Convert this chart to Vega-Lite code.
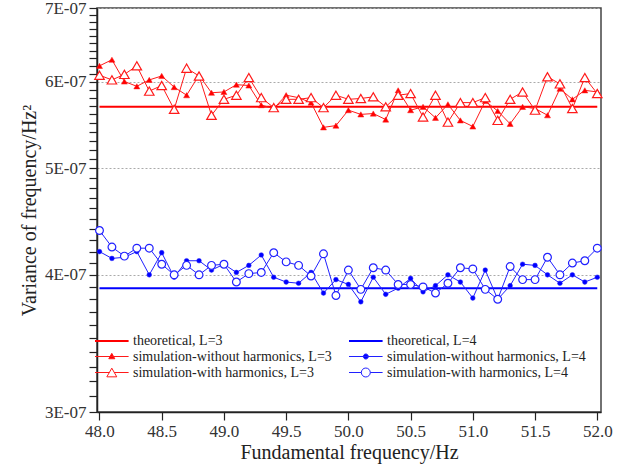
{
  "$schema": "https://vega.github.io/schema/vega-lite/v6.json",
  "width": 504,
  "height": 404,
  "autosize": {"type": "none"},
  "padding": {"left": 97, "top": 8, "right": 29, "bottom": 58},
  "background": "#ffffff",
  "config": {
    "font": "Liberation Serif",
    "view": {"stroke": "#444444", "strokeWidth": 1.5},
    "axis": {
      "labelFont": "Liberation Serif",
      "titleFont": "Liberation Serif",
      "titleFontWeight": "normal",
      "labelColor": "#333333",
      "titleColor": "#222222",
      "domainColor": "#222222",
      "domainWidth": 1.5,
      "tickColor": "#222222",
      "tickWidth": 1.2
    }
  },
  "datasets": {
    "legend": [
      {"s": "theoretical, L=3"}, {"s": "simulation-without harmonics, L=3"}, {"s": "simulation-with harmonics, L=3"},
      {"s": "theoretical, L=4"}, {"s": "simulation-without harmonics, L=4"}, {"s": "simulation-with harmonics, L=4"}
    ],
    "t3": [{"f": 48, "v": 5.69e-7}, {"f": 52, "v": 5.69e-7}],
    "t4": [{"f": 48, "v": 3.89e-7}, {"f": 52, "v": 3.89e-7}],
    "w3": [
      {"f": 48.0, "v": 6.20e-7}, {"f": 48.1, "v": 6.28e-7}, {"f": 48.2, "v": 6.00e-7}, {"f": 48.3, "v": 5.94e-7}, {"f": 48.4, "v": 6.02e-7},
      {"f": 48.5, "v": 6.07e-7}, {"f": 48.6, "v": 5.93e-7}, {"f": 48.7, "v": 5.83e-7}, {"f": 48.8, "v": 6.08e-7}, {"f": 48.9, "v": 5.86e-7},
      {"f": 49.0, "v": 5.87e-7}, {"f": 49.1, "v": 5.96e-7}, {"f": 49.2, "v": 5.95e-7}, {"f": 49.3, "v": 5.71e-7}, {"f": 49.4, "v": 5.67e-7},
      {"f": 49.5, "v": 5.83e-7}, {"f": 49.6, "v": 5.80e-7}, {"f": 49.7, "v": 5.74e-7}, {"f": 49.8, "v": 5.45e-7}, {"f": 49.9, "v": 5.47e-7},
      {"f": 50.0, "v": 5.65e-7}, {"f": 50.1, "v": 5.60e-7}, {"f": 50.2, "v": 5.61e-7}, {"f": 50.3, "v": 5.54e-7}, {"f": 50.4, "v": 5.89e-7},
      {"f": 50.5, "v": 5.65e-7}, {"f": 50.6, "v": 5.69e-7}, {"f": 50.7, "v": 5.56e-7}, {"f": 50.8, "v": 5.72e-7}, {"f": 50.9, "v": 5.53e-7},
      {"f": 51.0, "v": 5.46e-7}, {"f": 51.1, "v": 5.76e-7}, {"f": 51.2, "v": 5.64e-7}, {"f": 51.3, "v": 5.49e-7}, {"f": 51.4, "v": 5.69e-7},
      {"f": 51.5, "v": 5.67e-7}, {"f": 51.6, "v": 5.59e-7}, {"f": 51.7, "v": 5.91e-7}, {"f": 51.8, "v": 5.78e-7}, {"f": 51.9, "v": 5.89e-7},
      {"f": 52.0, "v": 5.87e-7}
    ],
    "h3": [
      {"f": 48.0, "v": 6.08e-7}, {"f": 48.1, "v": 6.02e-7}, {"f": 48.2, "v": 6.09e-7}, {"f": 48.3, "v": 6.20e-7}, {"f": 48.4, "v": 5.88e-7},
      {"f": 48.5, "v": 5.95e-7}, {"f": 48.6, "v": 5.66e-7}, {"f": 48.7, "v": 6.17e-7}, {"f": 48.8, "v": 6.07e-7}, {"f": 48.9, "v": 5.59e-7},
      {"f": 49.0, "v": 5.78e-7}, {"f": 49.1, "v": 5.83e-7}, {"f": 49.2, "v": 6.05e-7}, {"f": 49.3, "v": 5.80e-7}, {"f": 49.4, "v": 5.68e-7},
      {"f": 49.5, "v": 5.78e-7}, {"f": 49.6, "v": 5.78e-7}, {"f": 49.7, "v": 5.80e-7}, {"f": 49.8, "v": 5.68e-7}, {"f": 49.9, "v": 5.83e-7},
      {"f": 50.0, "v": 5.78e-7}, {"f": 50.1, "v": 5.79e-7}, {"f": 50.2, "v": 5.81e-7}, {"f": 50.3, "v": 5.69e-7}, {"f": 50.4, "v": 5.83e-7},
      {"f": 50.5, "v": 5.85e-7}, {"f": 50.6, "v": 5.57e-7}, {"f": 50.7, "v": 5.83e-7}, {"f": 50.8, "v": 5.51e-7}, {"f": 50.9, "v": 5.74e-7},
      {"f": 51.0, "v": 5.74e-7}, {"f": 51.1, "v": 5.80e-7}, {"f": 51.2, "v": 5.53e-7}, {"f": 51.3, "v": 5.78e-7}, {"f": 51.4, "v": 5.87e-7},
      {"f": 51.5, "v": 5.65e-7}, {"f": 51.6, "v": 6.06e-7}, {"f": 51.7, "v": 5.97e-7}, {"f": 51.8, "v": 5.67e-7}, {"f": 51.9, "v": 6.05e-7},
      {"f": 52.0, "v": 5.85e-7}
    ],
    "w4": [
      {"f": 48.0, "v": 4.20e-7}, {"f": 48.1, "v": 4.14e-7}, {"f": 48.2, "v": 4.15e-7}, {"f": 48.3, "v": 4.20e-7}, {"f": 48.4, "v": 4.00e-7},
      {"f": 48.5, "v": 4.19e-7}, {"f": 48.6, "v": 3.98e-7}, {"f": 48.7, "v": 4.12e-7}, {"f": 48.8, "v": 4.12e-7}, {"f": 48.9, "v": 4.04e-7},
      {"f": 49.0, "v": 4.09e-7}, {"f": 49.1, "v": 4.02e-7}, {"f": 49.2, "v": 4.08e-7}, {"f": 49.3, "v": 4.17e-7}, {"f": 49.4, "v": 3.98e-7},
      {"f": 49.5, "v": 3.94e-7}, {"f": 49.6, "v": 3.93e-7}, {"f": 49.7, "v": 4.02e-7}, {"f": 49.8, "v": 3.85e-7}, {"f": 49.9, "v": 3.96e-7},
      {"f": 50.0, "v": 3.92e-7}, {"f": 50.1, "v": 3.78e-7}, {"f": 50.2, "v": 3.98e-7}, {"f": 50.3, "v": 3.84e-7}, {"f": 50.4, "v": 3.89e-7},
      {"f": 50.5, "v": 3.97e-7}, {"f": 50.6, "v": 3.86e-7}, {"f": 50.7, "v": 3.91e-7}, {"f": 50.8, "v": 4.00e-7}, {"f": 50.9, "v": 3.94e-7},
      {"f": 51.0, "v": 3.81e-7}, {"f": 51.1, "v": 4.04e-7}, {"f": 51.2, "v": 3.80e-7}, {"f": 51.3, "v": 3.91e-7}, {"f": 51.4, "v": 4.09e-7},
      {"f": 51.5, "v": 4.08e-7}, {"f": 51.6, "v": 4.00e-7}, {"f": 51.7, "v": 3.93e-7}, {"f": 51.8, "v": 4.00e-7}, {"f": 51.9, "v": 3.94e-7},
      {"f": 52.0, "v": 3.98e-7}
    ],
    "h4": [
      {"f": 48.0, "v": 4.39e-7}, {"f": 48.1, "v": 4.24e-7}, {"f": 48.2, "v": 4.16e-7}, {"f": 48.3, "v": 4.23e-7}, {"f": 48.4, "v": 4.23e-7},
      {"f": 48.5, "v": 4.09e-7}, {"f": 48.6, "v": 4.00e-7}, {"f": 48.7, "v": 4.08e-7}, {"f": 48.8, "v": 4.00e-7}, {"f": 48.9, "v": 4.08e-7},
      {"f": 49.0, "v": 4.09e-7}, {"f": 49.1, "v": 3.94e-7}, {"f": 49.2, "v": 4.01e-7}, {"f": 49.3, "v": 4.02e-7}, {"f": 49.4, "v": 4.19e-7},
      {"f": 49.5, "v": 4.11e-7}, {"f": 49.6, "v": 4.08e-7}, {"f": 49.7, "v": 3.99e-7}, {"f": 49.8, "v": 4.18e-7}, {"f": 49.9, "v": 3.83e-7},
      {"f": 50.0, "v": 4.04e-7}, {"f": 50.1, "v": 3.88e-7}, {"f": 50.2, "v": 4.06e-7}, {"f": 50.3, "v": 4.04e-7}, {"f": 50.4, "v": 3.92e-7},
      {"f": 50.5, "v": 3.92e-7}, {"f": 50.6, "v": 3.90e-7}, {"f": 50.7, "v": 3.85e-7}, {"f": 50.8, "v": 3.93e-7}, {"f": 50.9, "v": 4.06e-7},
      {"f": 51.0, "v": 4.05e-7}, {"f": 51.1, "v": 3.88e-7}, {"f": 51.2, "v": 3.80e-7}, {"f": 51.3, "v": 4.07e-7}, {"f": 51.4, "v": 3.96e-7},
      {"f": 51.5, "v": 3.96e-7}, {"f": 51.6, "v": 4.15e-7}, {"f": 51.7, "v": 4.00e-7}, {"f": 51.8, "v": 4.10e-7}, {"f": 51.9, "v": 4.12e-7},
      {"f": 52.0, "v": 4.23e-7}
    ]
  },
  "layer": [
    {
      "data": {"name": "t3"},
      "mark": {"type": "line", "strokeWidth": 2},
      "encoding": {
        "x": {
          "field": "f", "type": "quantitative",
          "scale": {"domain": [47.98, 52.03], "nice": false, "zero": false},
          "axis": {
            "title": "Fundamental frequency/Hz",
            "titleFontSize": 20,
            "titlePadding": 3,
            "values": [48, 48.25, 48.5, 48.75, 49, 49.25, 49.5, 49.75, 50, 50.25, 50.5, 50.75, 51, 51.25, 51.5, 51.75, 52],
            "labelExpr": "round(datum.value*4) % 2 === 0 ? format(datum.value, '.1f') : ''",
            "labelFontSize": 17,
            "labelPadding": 3,
            "labelFlush": false,
            "labelOverlap": false,
            "tickSize": 8,
            "grid": false,
            "encode": {"ticks": {"update": {"y2": {"signal": "round(datum.value*4) % 2 === 0 ? 8 : 4"}}}}
          }
        },
        "y": {
          "field": "v", "type": "quantitative",
          "scale": {"type": "log", "domain": [3e-7, 7e-7], "nice": false, "zero": false},
          "axis": {
            "title": "Variance of frequency/Hz²",
            "titleFontSize": 20,
            "titlePadding": 5,
            "values": [3e-7, 3.1e-7, 3.2e-7, 3.3e-7, 3.4e-7, 3.5e-7, 3.6e-7, 3.7e-7, 3.8e-7, 3.9e-7,
                       4e-7, 4.1e-7, 4.2e-7, 4.3e-7, 4.4e-7, 4.5e-7, 4.6e-7, 4.7e-7, 4.8e-7, 4.9e-7,
                       5e-7, 5.1e-7, 5.2e-7, 5.3e-7, 5.4e-7, 5.5e-7, 5.6e-7, 5.7e-7, 5.8e-7, 5.9e-7,
                       6e-7, 6.1e-7, 6.2e-7, 6.3e-7, 6.4e-7, 6.5e-7, 6.6e-7, 6.7e-7, 6.8e-7, 6.9e-7, 7e-7],
            "labelExpr": "round(datum.value*1e8) % 10 === 0 ? format(datum.value*1e7, '.0f') + 'E-07' : ''",
            "labelFontSize": 17,
            "labelPadding": 3,
            "labelFlush": false,
            "labelOverlap": false,
            "tickSize": 8,
            "grid": true,
            "gridColor": "#aaaaaa",
            "gridDash": [2, 2],
            "gridWidth": 1,
            "gridOpacity": {"condition": {"test": "round(datum.value*1e8) % 10 === 0", "value": 1}, "value": 0},
            "encode": {"ticks": {"update": {"x2": {"signal": "round(datum.value*1e8) % 10 === 0 ? -8 : -4"}}}}
          }
        },
        "stroke": {
          "datum": "theoretical, L=3", "type": "nominal",
          "scale": {
            "domain": ["theoretical, L=3", "simulation-without harmonics, L=3", "simulation-with harmonics, L=3", "theoretical, L=4", "simulation-without harmonics, L=4", "simulation-with harmonics, L=4"],
            "range": ["#ff0000", "#ff1a1a", "#ff1a1a", "#0000ff", "#2020ff", "#2020ff"]
          },
          "legend": {
            "title": null, "orient": "none", "legendX": -3, "legendY": 325, "columns": 2, "padding": 0,
            "rowPadding": 1, "columnPadding": 13, "symbolSize": 196, "symbolOpacity": 1, "labelOffset": 23,
            "labelFont": "Liberation Serif", "labelFontSize": 14, "labelColor": "#222222", "labelLimit": 400
          }
        }
      }
    },
    {
      "data": {"name": "t4"},
      "mark": {"type": "line", "strokeWidth": 2},
      "encoding": {
        "x": {"field": "f", "type": "quantitative"},
        "y": {"field": "v", "type": "quantitative"},
        "stroke": {"datum": "theoretical, L=4", "type": "nominal"}
      }
    },
    {
      "data": {"name": "w3"},
      "mark": {"type": "line", "strokeWidth": 1, "point": {"shape": "triangle-up", "filled": true, "fill": "#ff0000", "size": 36, "strokeWidth": 0.5}},
      "encoding": {
        "x": {"field": "f", "type": "quantitative"},
        "y": {"field": "v", "type": "quantitative"},
        "stroke": {"datum": "simulation-without harmonics, L=3", "type": "nominal"}
      }
    },
    {
      "data": {"name": "h3"},
      "mark": {"type": "line", "strokeWidth": 1, "point": {"shape": "triangle-up", "filled": false, "fill": "#ffffff", "size": 90, "strokeWidth": 1.2}},
      "encoding": {
        "x": {"field": "f", "type": "quantitative"},
        "y": {"field": "v", "type": "quantitative"},
        "stroke": {"datum": "simulation-with harmonics, L=3", "type": "nominal"}
      }
    },
    {
      "data": {"name": "w4"},
      "mark": {"type": "line", "strokeWidth": 1, "point": {"shape": "circle", "filled": true, "fill": "#0000ff", "size": 22, "strokeWidth": 0.5}},
      "encoding": {
        "x": {"field": "f", "type": "quantitative"},
        "y": {"field": "v", "type": "quantitative"},
        "stroke": {"datum": "simulation-without harmonics, L=4", "type": "nominal"}
      }
    },
    {
      "data": {"name": "h4"},
      "mark": {"type": "line", "strokeWidth": 1, "point": {"shape": "circle", "filled": false, "fill": "#ffffff", "size": 60, "strokeWidth": 1.2}},
      "encoding": {
        "x": {"field": "f", "type": "quantitative"},
        "y": {"field": "v", "type": "quantitative"},
        "stroke": {"datum": "simulation-with harmonics, L=4", "type": "nominal"}
      }
    },
    {
      "data": {"name": "legend"},
      "mark": {"type": "point", "filled": true, "opacity": 0},
      "encoding": {
        "stroke": {"field": "s", "type": "nominal"},
        "shape": {
          "field": "s", "type": "nominal",
          "scale": {
            "domain": ["theoretical, L=3", "simulation-without harmonics, L=3", "simulation-with harmonics, L=3", "theoretical, L=4", "simulation-without harmonics, L=4", "simulation-with harmonics, L=4"],
            "range": [
              "M-1,0H3.8",
              "M-1,0H3.8M1.4,-0.45L1.83,0.32L0.97,0.32Z",
              "M-1,0H1.05M1.75,0H3.8M1.4,-0.62L2.11,0.62L0.69,0.62Z",
              "M-1,0H3.8",
              "M-1,0H3.8M1.76,0A0.36,0.36,0,1,1,1.04,0A0.36,0.36,0,1,1,1.76,0Z",
              "M-1,0H0.76M2.04,0H3.8M2.04,0A0.64,0.64,0,1,1,0.76,0A0.64,0.64,0,1,1,2.04,0Z"
            ]
          },
          "legend": {
            "title": null, "orient": "none", "legendX": -3, "legendY": 325, "columns": 2, "padding": 0,
            "rowPadding": 1, "columnPadding": 13, "symbolSize": 196, "symbolOpacity": 1, "labelOffset": 23,
            "labelFont": "Liberation Serif", "labelFontSize": 14, "labelColor": "#222222", "labelLimit": 400
          }
        },
        "fill": {
          "field": "s", "type": "nominal",
          "scale": {
            "domain": ["theoretical, L=3", "simulation-without harmonics, L=3", "simulation-with harmonics, L=3", "theoretical, L=4", "simulation-without harmonics, L=4", "simulation-with harmonics, L=4"],
            "range": ["#ffffff", "#ff0000", "#ffffff", "#ffffff", "#0000ff", "#ffffff"]
          },
          "legend": {
            "title": null, "orient": "none", "legendX": -3, "legendY": 325, "columns": 2, "padding": 0,
            "rowPadding": 1, "columnPadding": 13, "symbolSize": 196, "symbolOpacity": 1, "labelOffset": 23,
            "labelFont": "Liberation Serif", "labelFontSize": 14, "labelColor": "#222222", "labelLimit": 400
          }
        },
        "strokeWidth": {
          "field": "s", "type": "nominal",
          "scale": {
            "type": "ordinal",
            "domain": ["theoretical, L=3", "simulation-without harmonics, L=3", "simulation-with harmonics, L=3", "theoretical, L=4", "simulation-without harmonics, L=4", "simulation-with harmonics, L=4"],
            "range": [2, 1, 1, 2, 1, 1]
          },
          "legend": {
            "title": null, "orient": "none", "legendX": -3, "legendY": 325, "columns": 2, "padding": 0,
            "rowPadding": 1, "columnPadding": 13, "symbolSize": 196, "symbolOpacity": 1, "labelOffset": 23,
            "labelFont": "Liberation Serif", "labelFontSize": 14, "labelColor": "#222222", "labelLimit": 400
          }
        }
      }
    }
  ]
}
